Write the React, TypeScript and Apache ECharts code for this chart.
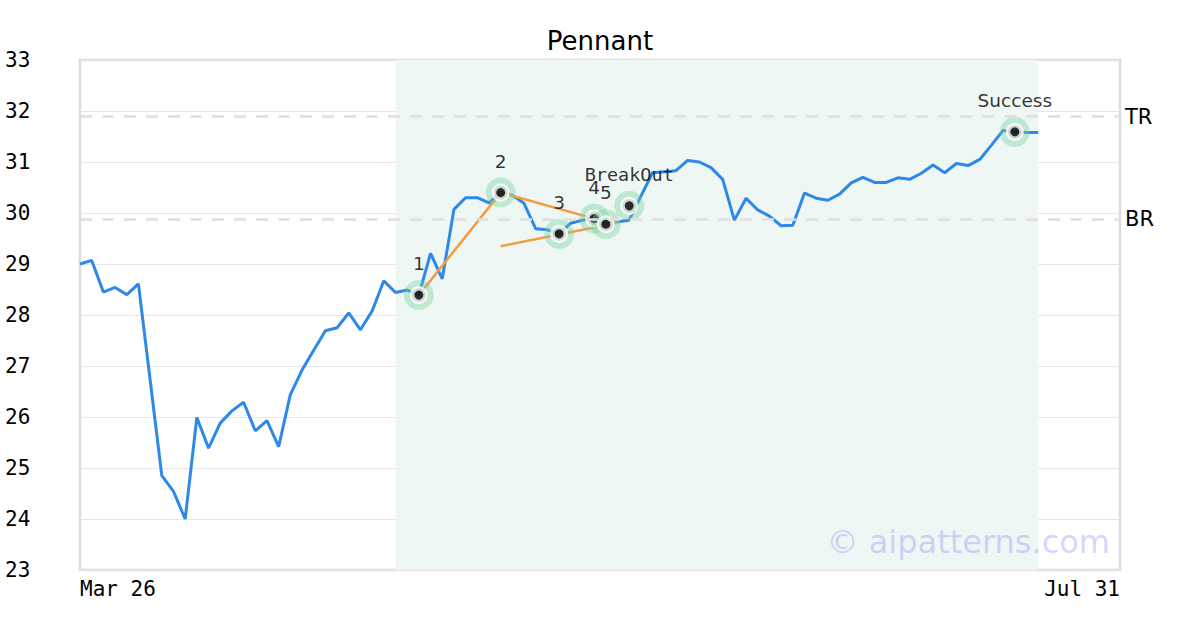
import React, { useEffect, useRef } from "react";
import * as echarts from "echarts";

// Price series (one value per trading day, index 0 = Mar 26)
const prices: number[] = [
  29.0, 29.07, 28.45, 28.54, 28.4, 28.61, 26.73, 24.85, 24.54, 24.0,
  25.99, 25.39, 25.88, 26.12, 26.29, 25.73, 25.93, 25.42, 26.44, 26.92,
  27.31, 27.69, 27.75, 28.04, 27.71, 28.08, 28.67, 28.44, 28.49, 28.39,
  29.21, 28.71, 30.07, 30.3, 30.3, 30.2, 30.4, 30.35, 30.19, 29.69,
  29.67, 29.59, 29.8, 29.86, 29.89, 29.78, 29.83, 29.86, 30.33, 30.79,
  30.81, 30.83, 31.03, 31.0, 30.89, 30.66, 29.86, 30.29, 30.06, 29.94,
  29.75, 29.76, 30.39, 30.29, 30.25, 30.37, 30.59, 30.7, 30.6, 30.6,
  30.69, 30.66, 30.78, 30.94, 30.79, 30.97, 30.93, 31.05, 31.33, 31.62,
  31.59, 31.58, 31.58,
];

const xTickLabels: string[] = ["Mar 26", "Jul 31"];
const xMaxIndex = 89;
const yTickMin = 23;
const yTickMax = 33;

// Pattern region (indices)
const patternStart = 27;
const patternEnd = 82;

// Pattern pivot points
const pointNames: string[] = ["1", "2", "3", "4", "5", "BreakOut", "Success"];
const pointIndex: number[] = [29, 36, 41, 44, 45, 47, 80];
const pointValues: number[] = [28.39, 30.4, 29.59, 29.89, 29.78, 30.14, 31.59];

// Trend lines: [startIndex, startValue, endIndex, endValue]
const trendLines: number[][] = [
  [29, 28.39, 36, 30.4],
  [36, 30.4, 44, 29.89],
  [36, 29.35, 46, 29.81],
];

// Horizontal levels
const levelNames: string[] = ["TR", "BR"];
const levelValues: number[] = [31.89, 29.88];

const App: React.FC = () => {
  const ref = useRef<HTMLDivElement>(null);

  useEffect(() => {
    if (!ref.current) return;
    const chart = echarts.init(ref.current, undefined, { renderer: "svg" });

    const lineData = prices.map((v, i) => [i, v]);

    const trendSeries = trendLines.map((t) => ({
      type: "line",
      data: [
        [t[0], t[1]],
        [t[2], t[3]],
      ],
      symbol: "none",
      lineStyle: { color: "#f59b42", width: 2.5 },
      z: 3,
      silent: true,
    }));

    const markerSeries: any[] = [];
    pointIndex.forEach((idx, k) => {
      markerSeries.push({
        type: "scatter",
        data: [[idx, pointValues[k]]],
        symbol: "circle",
        symbolSize: 30,
        itemStyle: { color: "rgba(115,208,160,0.48)" },
        z: 4,
        silent: true,
      });
      markerSeries.push({
        type: "scatter",
        data: [{ value: [idx, pointValues[k]], name: pointNames[k] }],
        symbol: "circle",
        symbolSize: 13.5,
        itemStyle: { color: "#000", borderColor: "#fff", borderWidth: 4.5 },
        z: 4,
        silent: true,
        label: {
          show: true,
          position: "top",
          distance: 13,
          fontSize: 18.5,
          fontFamily: pointNames[k] === "BreakOut" ? "DejaVu Sans Mono" : "DejaVu Sans",
          color: "#000",
          formatter: (p: any) => p.name,
        },
      });
    });

    const option: any = {
      animation: false,
      title: {
        text: "Pennant",
        left: "center",
        top: 23,
        textStyle: {
          fontFamily: "DejaVu Sans",
          fontSize: 26,
          fontWeight: "normal",
          color: "#000",
        },
      },
      grid: {
        left: 80,
        right: 80,
        top: 60,
        bottom: 60,
        show: true,
        borderColor: "#dcdcdc",
        borderWidth: 2.5,
        backgroundColor: "transparent",
      },
      xAxis: {
        type: "value",
        min: 0,
        max: xMaxIndex,
        interval: xMaxIndex,
        axisLine: { show: false },
        axisTick: { show: false },
        splitLine: { show: false },
        axisLabel: {
          showMinLabel: true,
          showMaxLabel: true,
          alignMinLabel: "left",
          alignMaxLabel: "right",
          margin: 8,
          fontFamily: "DejaVu Sans Mono",
          fontSize: 21,
          color: "#000",
          formatter: (v: number) => (v === 0 ? xTickLabels[0] : v === xMaxIndex ? xTickLabels[1] : ""),
        },
      },
      yAxis: {
        type: "value",
        min: yTickMin,
        max: yTickMax,
        interval: 1,
        axisLine: { show: false },
        axisTick: { show: false },
        splitLine: { show: true, lineStyle: { color: "#e6e6e6", width: 1 } },
        axisLabel: {
          align: "left",
          margin: 75,
          fontFamily: "DejaVu Sans Mono",
          fontSize: 21,
          color: "#000",
        },
      },
      graphic: [
        {
          type: "text",
          z: 100,
          silent: true,
          style: {
            text: "© aipatterns.com",
            x: 1110,
            y: 542,
            textAlign: "right",
            textVerticalAlign: "middle",
            fontFamily: "DejaVu Sans",
            fontSize: 32,
            fill: "rgba(90,100,245,0.27)",
          },
        },
      ],
      series: [
        {
          type: "line",
          data: lineData,
          symbol: "none",
          lineStyle: { color: "#2d88e8", width: 3 },
          z: 2,
          silent: true,
          markArea: {
            silent: true,
            itemStyle: { color: "#eff7f4" },
            data: [[{ xAxis: patternStart }, { xAxis: patternEnd }]],
          },
          markLine: {
            silent: true,
            symbol: "none",
            lineStyle: { color: "#e0e0e0", type: [12, 10], width: 2.5 },
            label: {
              position: "end",
              distance: 5,
              fontFamily: "DejaVu Sans",
              fontSize: 21,
              color: "#000",
              formatter: (p: any) => p.name,
            },
            data: levelValues.map((v, k) => ({ yAxis: v, name: levelNames[k] })),
          },
        },
        ...trendSeries,
        ...markerSeries,
      ],
    };

    chart.setOption(option);
    return () => chart.dispose();
  }, []);

  return (
    <div
      ref={ref}
      style={{ position: "fixed", left: 0, top: 0, width: 1200, height: 630, background: "#fff" }}
    />
  );
};

export default App;
